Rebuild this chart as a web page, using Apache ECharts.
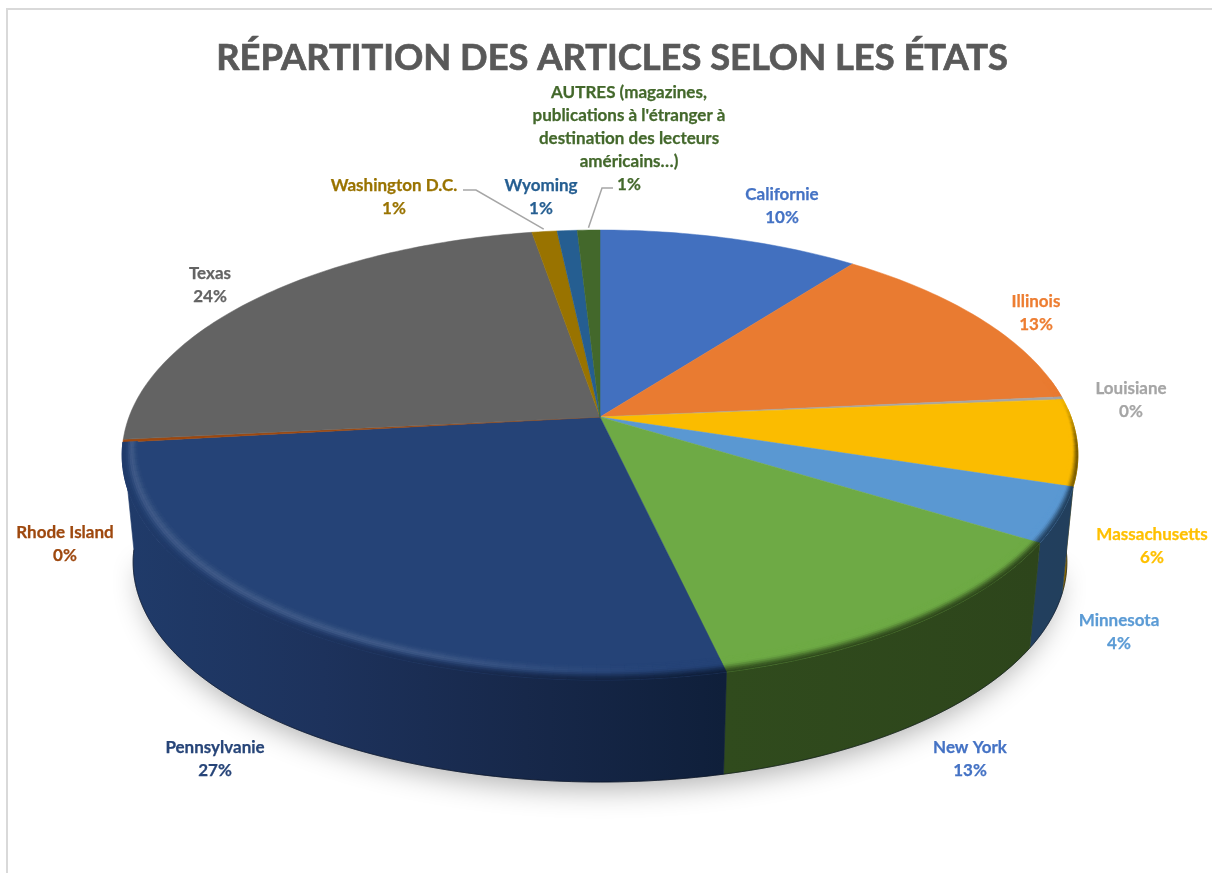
<!DOCTYPE html>
<html>
<head>
<meta charset="utf-8">
<title>Répartition des articles selon les États</title>
<script src="https://cdn.jsdelivr.net/npm/echarts@6/dist/echarts.min.js"></script>
<style>
  html, body { margin: 0; height: 100%; background: #ffffff; }
  #main { width: 1212px; height: 873px; }
</style>
</head>
<body>
<div id="main"></div>
<script>
// data (share of the articles, in %)
const titleText = 'RÉPARTITION DES ARTICLES SELON LES ÉTATS';
const states = ['Californie', 'Illinois', 'Louisiane', 'Massachusetts', 'Minnesota', 'New York',
  'Pennsylvanie', 'Rhode Island', 'Texas', 'Washington D.C.', 'Wyoming',
  "AUTRES (magazines,\npublications à l'étranger à\ndestination des lecteurs\naméricains…)"];
const shares = [10.4, 13.1, 0.2, 6.2, 3.9, 12.6, 26.8, 0.2, 23.9, 1.0, 0.8, 0.9];

// styles
const sliceColors = ['#4270BF', '#E97B31', '#A5A5A5', '#FBBC00', '#5A98D2', '#6EAA45',
  '#254377', '#9E480E', '#636363', '#997300', '#255E91', '#43682B'];
const labelColors = ['#4472C4', '#ED7D31', '#A5A5A5', '#FFC000', '#5B9BD5', '#4472C4',
  '#264478', '#9E480E', '#636363', '#997300', '#255E91', '#43682B'];
const wallShades = [['#2a4577'], ['#8f4a1d'], ['#666666'], ['#8a6a00', '#6e5400'], ['#223f5e', '#223f5c'],
  ['#304b1d', '#2d451b'], ['#203b6a', '#1d325c', '#17284a', '#0f1f3a'],
  ['#9E480E'], ['#636363'], ['#5a4400'], ['#163857'], ['#273d19']];

// label block centres, in page pixels
const labelAnchors = [[782, 206], [1036, 313], [1131, 400], [1152, 546], [1119, 632], [970, 759],
  [215, 759], [65, 544], [210, 285], [394, 197], [541, 197], [629, 139]];
// start of the leader lines, in page pixels (slice index -> polyline start + elbow)
const leaders = { 9: [[463, 190], [476, 190]], 11: [[613, 188], [602, 188]] };

// projection of the tilted disc
const cx = 600, cy = 417;
const radiusX = 471, radiusY = 218.6, persp = 0.169;
const depth = 108, bottomScale = 0.977;
const labelFont = '700 17px Lato';

const total = shares.reduce((a, b) => a + b, 0);
const starts = [];
shares.reduce((acc, v, i) => { starts[i] = acc; return acc + v; }, 0);
const toDeg = v => v / total * 360;

function project(deg, r, bottom) {
  const t = deg * Math.PI / 180;
  const c = Math.cos(t) * r, s = Math.sin(t) * r;
  const w = 1 + persp * c;
  const k = bottom ? bottomScale : 1;
  return [cx + k * radiusX * s / w, cy + (bottom ? depth : 0) - k * radiusY * c / w];
}

function arc(from, to, r, bottom, step) {
  const pts = [];
  const n = Math.max(1, Math.ceil((to - from) / (step || 1)));
  for (let i = 0; i <= n; i++) pts.push(project(from + (to - from) * i / n, r, bottom));
  return pts;
}

function hex2rgb(h) { return [1, 3, 5].map(i => parseInt(h.substr(i, 2), 16)); }
function mixRgb(a, b, t) { return a.map((v, i) => v + (b[i] - v) * t); }
function rgbStr(c) { return 'rgb(' + c.map(Math.round).join(',') + ')'; }
function smooth(a, b, x) {
  const t = Math.min(1, Math.max(0, (x - a) / (b - a)));
  return t * t * (3 - 2 * t);
}
function shadeAt(list, f) {
  if (list.length === 1) return hex2rgb(list[0]);
  const p = Math.min(0.999, Math.max(0, f)) * (list.length - 1);
  const i = Math.floor(p);
  return mixRgb(hex2rgb(list[i]), hex2rgb(list[i + 1]), p - i);
}

// front of the wall visible for these angles only (stops where Pennsylvanie ends)
const wallFrom = 88, wallTo = toDeg(starts[7]);
function wallRange(i) {
  const a = Math.max(toDeg(starts[i]), wallFrom);
  const b = Math.min(toDeg(starts[i] + shares[i]), wallTo);
  return a < b - 1e-6 ? [a, b] : null;
}
function wallExtent(i) {
  const rg = wallRange(i);
  if (!rg) return [0, 1];
  const xs = arc(rg[0], rg[1], 1, false).map(p => p[0]);
  return [Math.min.apply(null, xs), Math.max.apply(null, xs)];
}

function renderShadow(params) {
  if (params.dataIndex !== 0) return null;
  return {
    type: 'polygon',
    shape: { points: arc(100, 262, 0.985, true, 2) },
    style: { fill: '#8a8a8a', shadowColor: 'rgba(0,0,0,0.3)', shadowBlur: 28, shadowOffsetY: 12 }
  };
}

function renderWall(params) {
  const i = params.dataIndex;
  const rg = wallRange(i);
  if (!rg) return null;
  const ext = wallExtent(i);
  const shades = wallShades[i];
  const fill = {
    type: 'linear', x: ext[0], y: 0, x2: ext[1], y2: 0, global: true,
    colorStops: shades.map((c, k) => ({ offset: shades.length > 1 ? k / (shades.length - 1) : 0, color: c }))
  };
  const bottomArc = arc(rg[0], rg[1], 1, true);
  return {
    type: 'group',
    children: [{
      type: 'polygon',
      shape: { points: arc(rg[0], rg[1], 1, false).concat(bottomArc.reverse()) },
      style: { fill: fill, stroke: fill, lineWidth: 0.6 }
    }, {
      type: 'polyline',
      shape: { points: arc(rg[0], rg[1], 1, true) },
      style: { fill: 'none', stroke: 'rgba(5,12,25,0.55)', lineWidth: 1 }
    }]
  };
}

function renderTop(params, api) {
  const i = params.dataIndex;
  const a = toDeg(starts[i]), b = a + toDeg(api.value(0));
  const color = sliceColors[i];
  return {
    type: 'polygon',
    shape: { points: [[cx, cy]].concat(arc(a, b, 1, false)) },
    style: { fill: color, stroke: color, lineWidth: 0.5 }
  };
}

// soft bevel along the front edge of the top face
function renderRim(params) {
  const i = params.dataIndex;
  const a = Math.max(toDeg(starts[i]), 80);
  const b = Math.min(toDeg(starts[i] + shares[i]), wallTo);
  if (a >= b - 1e-6) return null;
  const ext = wallExtent(i);
  const top = hex2rgb(sliceColors[i]);
  const white = [255, 255, 255];
  const bands = 9;
  const n = Math.max(1, Math.ceil((b - a) / 1.5));
  const children = [];
  for (let s = 0; s < n; s++) {
    const d0 = a + (b - a) * s / n, d1 = a + (b - a) * (s + 1) / n, dm = (d0 + d1) / 2;
    const width = 0.014 + 0.036 * Math.abs(Math.cos(dm * Math.PI / 180)) + 0.012 * smooth(180, 250, dm);
    const show = smooth(82, 100, dm);
    const glow = smooth(170, 205, dm);
    const xm = project(dm, 1, false)[0];
    const wall = shadeAt(wallShades[i], (xm - ext[0]) / (ext[1] - ext[0] || 1));
    for (let k = 0; k < bands; k++) {
      const t = (k + 0.5) / bands;
      const r0 = 1 - width * (1 - k / bands), r1 = 1 - width * (1 - (k + 1) / bands);
      let c = mixRgb(top, white, 0.12 * glow * Math.exp(-Math.pow((t - 0.42) / 0.26, 2)));
      c = mixRgb(c, wall, smooth(0.4, 1, t) * show);
      const col = rgbStr(c);
      children.push({
        type: 'polygon',
        shape: { points: [project(d0, r0), project(d1, r0), project(d1, r1), project(d0, r1)] },
        style: { fill: col, stroke: col, lineWidth: 0.5 }
      });
    }
  }
  return { type: 'group', children: children };
}

function renderLabel(params, api) {
  const i = params.dataIndex;
  const color = labelColors[i];
  const children = [{
    type: 'text',
    x: labelAnchors[i][0],
    y: labelAnchors[i][1],
    style: {
      text: states[i] + '\n' + Math.round(api.value(0) / total * 100) + '%',
      fill: color, stroke: color, lineWidth: 0.25,
      font: labelFont, align: 'center', verticalAlign: 'middle', lineHeight: 23
    }
  }];
  if (leaders[i]) {
    const mid = toDeg(starts[i] + shares[i] / 2);
    children.push({
      type: 'polyline',
      shape: { points: leaders[i].concat([project(mid, 1.015)]) },
      style: { fill: 'none', stroke: '#A6A6A6', lineWidth: 1.5 }
    });
  }
  return { type: 'group', children: children };
}

function layer(renderFn, z) {
  return {
    type: 'custom',
    coordinateSystem: 'none',
    silent: true,
    z: z,
    clip: false,
    data: shares.map(v => [v]),
    renderItem: renderFn
  };
}

const chart = echarts.init(document.getElementById('main'), null, { renderer: 'canvas' });
chart.setOption({
  backgroundColor: '#ffffff',
  animation: false,
  title: {
    text: titleText,
    left: 607,
    top: 35,
    textAlign: 'center',
    textStyle: {
      color: '#595959', fontFamily: 'Lato', fontWeight: 700, fontSize: 36.3,
      textBorderColor: '#595959', textBorderWidth: 0.7
    }
  },
  graphic: [{
    type: 'polyline',
    z: -1,
    shape: { points: [[7, 873], [7, 9], [1212, 9]] },
    style: { fill: 'none', stroke: '#D9D9D9', lineWidth: 2 }
  }],
  series: [
    layer(renderShadow, 1),
    layer(renderWall, 2),
    layer(renderTop, 3),
    layer(renderRim, 4),
    layer(renderLabel, 5)
  ]
});
</script>
</body>
</html>
